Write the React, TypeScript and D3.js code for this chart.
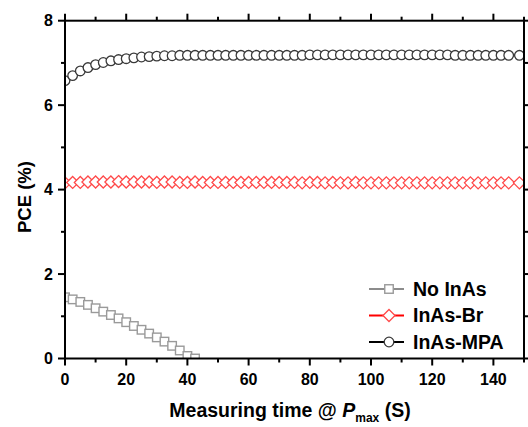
import React from "react";
import * as d3 from "d3";

const W = 528;
const H = 427;

// time step 2.5 s
const noInAsTime = [0, 2.5, 5, 7.5, 10, 12.5, 15, 17.5, 20, 22.5, 25, 27.5, 30, 32.5, 35, 37.5, 40, 42.5];
const noInAsPCE = [1.45, 1.40, 1.34, 1.27, 1.19, 1.11, 1.03, 0.95, 0.86, 0.77, 0.68, 0.59, 0.50, 0.40, 0.30, 0.19, 0.06, 0.0];

const fullTime = [
  0, 2.5, 5, 7.5, 10, 12.5, 15, 17.5, 20, 22.5, 25, 27.5, 30, 32.5, 35, 37.5, 40, 42.5, 45, 47.5,
  50, 52.5, 55, 57.5, 60, 62.5, 65, 67.5, 70, 72.5, 75, 77.5, 80, 82.5, 85, 87.5, 90, 92.5, 95, 97.5,
  100, 102.5, 105, 107.5, 110, 112.5, 115, 117.5, 120, 122.5, 125, 127.5, 130, 132.5, 135, 137.5, 140, 142.5, 145, 148.5,
];

const brPCE = [
  4.16, 4.17, 4.17, 4.18, 4.18, 4.18, 4.18, 4.19, 4.18, 4.18, 4.18, 4.18, 4.17, 4.18, 4.18, 4.17, 4.17, 4.18, 4.17, 4.17,
  4.17, 4.17, 4.17, 4.17, 4.17, 4.17, 4.17, 4.17, 4.17, 4.17, 4.17, 4.16, 4.17, 4.17, 4.16, 4.17, 4.16, 4.16, 4.17, 4.16,
  4.16, 4.16, 4.16, 4.16, 4.16, 4.16, 4.16, 4.16, 4.16, 4.16, 4.16, 4.16, 4.16, 4.16, 4.16, 4.16, 4.16, 4.16, 4.16, 4.16,
];

const mpaPCE = [
  6.58, 6.70, 6.81, 6.89, 6.96, 7.01, 7.05, 7.08, 7.10, 7.12, 7.14, 7.15, 7.16, 7.17, 7.17, 7.18, 7.18, 7.18, 7.18, 7.18,
  7.18, 7.18, 7.18, 7.18, 7.18, 7.18, 7.18, 7.18, 7.18, 7.18, 7.18, 7.18, 7.19, 7.19, 7.19, 7.19, 7.19, 7.19, 7.19, 7.19,
  7.19, 7.19, 7.19, 7.19, 7.19, 7.19, 7.19, 7.19, 7.19, 7.19, 7.19, 7.18, 7.18, 7.18, 7.18, 7.18, 7.18, 7.18, 7.18, 7.18,
];

const xMajor = [0, 20, 40, 60, 80, 100, 120, 140];
const xMinor = [10, 30, 50, 70, 90, 110, 130, 150];
const yMajor = [0, 2, 4, 6, 8];
const yMinor = [1, 3, 5, 7];

const seriesNames = ["No InAs", "InAs-Br", "InAs-MPA"];

const FONT = "'Liberation Sans', Arial, Helvetica, sans-serif";

export default function App() {
  const left = 65, right = 524, top = 20.7, bottom = 358.5;
  const x = d3.scaleLinear().domain([0, 150]).range([left, right]);
  const y = d3.scaleLinear().domain([0, 8]).range([bottom, top]);

  const line = d3
    .line<[number, number]>()
    .x((d) => x(d[0]))
    .y((d) => y(d[1]));

  const noData: [number, number][] = noInAsTime.map((t, i) => [t, noInAsPCE[i]]);
  const brData: [number, number][] = fullTime.map((t, i) => [t, brPCE[i]]);
  const mpaData: [number, number][] = fullTime.map((t, i) => [t, mpaPCE[i]]);

  const sq = 8.5;
  const dia = 6;
  const cr = 4.8;

  const square = (cx: number, cy: number, k: string, color: string) => (
    <rect key={k} x={cx - sq / 2} y={cy - sq / 2} width={sq} height={sq} fill="white" stroke={color} strokeWidth={1.4} />
  );
  const diamond = (cx: number, cy: number, k: string, color: string) => (
    <path
      key={k}
      d={`M${cx},${cy - dia}L${cx + dia},${cy}L${cx},${cy + dia}L${cx - dia},${cy}Z`}
      fill="white"
      stroke={color}
      strokeWidth={1.3}
    />
  );
  const circle = (cx: number, cy: number, k: string, color: string) => (
    <circle key={k} cx={cx} cy={cy} r={cr} fill="white" stroke={color} strokeWidth={1.3} />
  );

  const grayLine = "#8c8c8c";
  const grayMark = "#9a9a9a";
  const redLine = "#ff0000";
  const redMark = "#ff4a4a";
  const blackLine = "#000000";
  const blackMark = "#3a3a3a";

  const legendRows = [
    { name: seriesNames[0], lc: grayLine, mc: grayMark, m: square },
    { name: seriesNames[1], lc: redLine, mc: redMark, m: diamond },
    { name: seriesNames[2], lc: blackLine, mc: blackMark, m: circle },
  ];
  const legendY = [289, 315.5, 342];

  return (
    <svg
      width={W}
      height={H}
      style={{ position: "fixed", left: 0, top: 0, background: "white" }}
      fontFamily={FONT}
    >
      <defs>
        <clipPath id="plotClip">
          <rect x={left} y={top} width={right - left} height={bottom - top} />
        </clipPath>
      </defs>

      <g clipPath="url(#plotClip)">
        <path d={line(noData) || ""} fill="none" stroke={grayLine} strokeWidth={1.6} />
        {noData.map((d, i) => square(x(d[0]), y(d[1]), "s" + i, grayMark))}
        <path d={line(brData) || ""} fill="none" stroke={redLine} strokeWidth={1.6} />
        {brData.map((d, i) => diamond(x(d[0]), y(d[1]), "d" + i, redMark))}
        <path d={line(mpaData) || ""} fill="none" stroke={blackLine} strokeWidth={1.6} />
        {mpaData.map((d, i) => circle(x(d[0]), y(d[1]), "c" + i, blackMark))}
      </g>

      {/* frame */}
      <rect x={left} y={top} width={right - left} height={bottom - top} fill="none" stroke="black" strokeWidth={2} />

      {/* x ticks bottom and top */}
      {xMajor.map((v) => (
        <g key={"xm" + v}>
          <line x1={x(v)} x2={x(v)} y1={bottom} y2={bottom + 7} stroke="black" strokeWidth={2} />
          <line x1={x(v)} x2={x(v)} y1={top} y2={top - 7} stroke="black" strokeWidth={2} />
          <text x={x(v)} y={385} textAnchor="middle" fontSize={16} fontWeight="bold">
            {v}
          </text>
        </g>
      ))}
      {xMinor.map((v) => (
        <g key={"xn" + v}>
          <line x1={x(v)} x2={x(v)} y1={bottom} y2={bottom + 4} stroke="black" strokeWidth={2} />
          <line x1={x(v)} x2={x(v)} y1={top} y2={top - 4} stroke="black" strokeWidth={2} />
        </g>
      ))}

      {/* y ticks left and right */}
      {yMajor.map((v) => (
        <g key={"ym" + v}>
          <line x1={left} x2={left - 7} y1={y(v)} y2={y(v)} stroke="black" strokeWidth={2} />
          <line x1={right} x2={right + 7} y1={y(v)} y2={y(v)} stroke="black" strokeWidth={2} />
          <text x={53} y={y(v) + 5.5} textAnchor="end" fontSize={16} fontWeight="bold">
            {v}
          </text>
        </g>
      ))}
      {yMinor.map((v) => (
        <g key={"yn" + v}>
          <line x1={left} x2={left - 4} y1={y(v)} y2={y(v)} stroke="black" strokeWidth={2} />
          <line x1={right} x2={right + 4} y1={y(v)} y2={y(v)} stroke="black" strokeWidth={2} />
        </g>
      ))}

      {/* axis titles */}
      <text
        transform={`translate(31,197) rotate(-90)`}
        textAnchor="middle"
        fontSize={18.5}
        fontWeight="bold"
      >
        PCE (%)
      </text>
      <text x={290} y={417} textAnchor="middle" fontSize={19.5} fontWeight="bold">
        Measuring time @ <tspan fontStyle="italic">P</tspan>
        <tspan fontSize={12} dy={5}>max</tspan>
        <tspan dy={-5}> (S)</tspan>
      </text>

      {/* legend */}
      {legendRows.map((r, i) => (
        <g key={"lg" + i}>
          <line x1={369} x2={404} y1={legendY[i]} y2={legendY[i]} stroke={r.lc} strokeWidth={2} />
          {r.m(389, legendY[i], "lm" + i, r.mc)}
          <text x={413} y={legendY[i] + 6.5} fontSize={19.5} fontWeight="bold">
            {r.name}
          </text>
        </g>
      ))}
    </svg>
  );
}
